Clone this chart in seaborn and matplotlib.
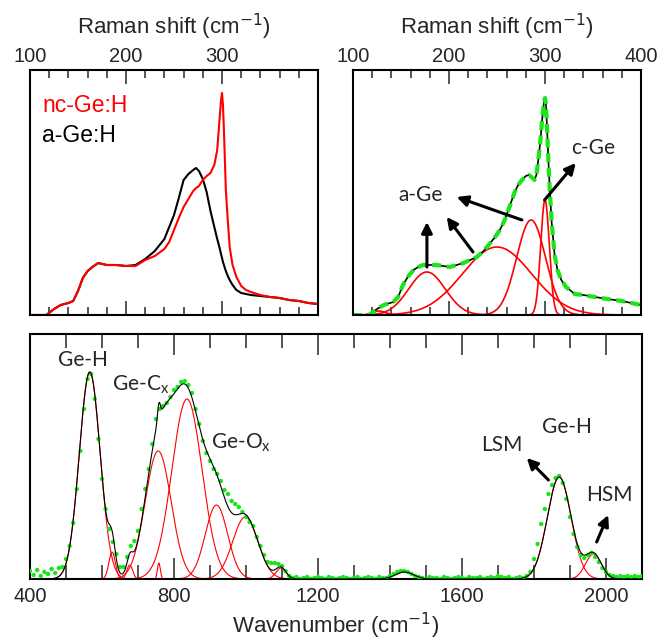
import numpy as np
import pandas as pd
import matplotlib
matplotlib.use('Agg')
import matplotlib.pyplot as plt
from matplotlib.ticker import MultipleLocator, FixedLocator
import seaborn as sns

# ---- top left: Raman spectra of nc-Ge:H and a-Ge:H (a.u.) ----
raman_x = [100, 110, 117, 125, 132, 140, 145, 150, 155, 160, 165, 171, 180, 190, 200,
           210, 220, 230, 240, 245, 250, 255, 260, 265, 270, 273, 276, 280, 284, 288,
           292, 295, 297, 299, 300, 301, 302, 304, 306, 308, 311, 315, 320, 325, 330,
           340, 350, 360, 370, 380, 390, 400]
nc_geh = [0, 0, 0, 6, 10, 12, 14, 24, 37, 44, 48, 52, 50, 50, 49,
          49, 55, 59, 66, 73, 85, 97, 108, 116, 124, 127, 129, 135, 139, 142,
          150, 165, 190, 215, 222, 210, 185, 125, 95, 68, 50, 38, 29, 25, 23,
          20, 18, 17, 15, 14, 12, 11]
a_geh = [0, 0, 0, 6, 10, 12, 14, 24, 37, 44, 48, 52, 50, 50, 49,
         50, 56, 64, 76, 88, 100, 117, 135, 141, 145, 147, 144, 136, 123, 104,
         88, 76, 69, 61, 57, 53, 50, 44, 39, 35, 30, 25, 22, 21, 20,
         19, 18, 17, 15, 14, 12, 11]

# ---- top right: nc-Ge:H spectrum and fitted peaks ----
fit_x = [100, 110, 117, 125, 132, 142, 147, 152, 157, 163, 168, 173, 180, 187, 194,
         201, 208, 215, 222, 229, 236, 243, 248, 253, 258, 263, 268, 272, 276, 280,
         283, 286, 289, 291, 293, 295, 297, 299, 300, 301, 302, 303.5, 305, 307, 310,
         313, 317, 322, 331, 340, 352, 365, 380, 390, 400]
fit_y = [0, 0, 0, 6, 10, 13, 18, 30, 38, 45, 48, 50, 50, 50, 49,
         48, 50, 52, 55, 58, 64, 72, 78, 85, 95, 108, 122, 130, 135, 139,
         140, 138, 135, 140, 155, 172, 195, 214, 217, 210, 190, 155, 125, 92, 60,
         45, 35, 28, 21, 20, 18, 16, 14, 12, 10]
ge_centers = [127, 177, 250, 285.5, 300]
ge_heights = [4, 43, 68, 95, 115]
ge_widths = [7, 19, 36, 15, 4.5]

# ---- bottom: IR absorption, 400-2100 cm-1 every 10 cm-1 ----
ir_x = np.arange(400, 2101, 10)
ir_y = [8, 4, 9, 3, 7, 5, 10, 6, 11, 12,            # 400-490
        20, 33, 56, 90, 128, 170, 200, 205, 180, 140,  # 500-590
        100, 70, 50, 37, 25, 12, 12, 22, 33, 38,       # 600-690
        48, 70, 90, 110, 135, 160, 170, 173, 176, 182,  # 700-790
        189, 192, 197, 198, 194, 186, 170, 155, 138, 126,  # 800-890
        118, 110, 105, 98, 89, 85, 78, 75, 72, 67,     # 900-990
        62, 57, 53, 42, 33, 24, 17, 16, 16, 15,        # 1000-1090
        13, 8, 3, 1, 2, 0, 1, 2, 0, 1,                 # 1100-1190
        2, 1, 0, 2, 1, 0, 1, 2, 1, 0,                  # 1200-1290
        1, 2, 0, 1, 2, 1, 0, 2, 1, 1,                  # 1300-1390
        3, 5, 7, 8, 8, 7, 5, 3, 2, 1,                  # 1400-1490
        0, 2, 1, 1, 0, 2, 1, 0, 1, 2,                  # 1500-1590
        1, 0, 2, 1, 1, 2, 0, 1, 2, 1,                  # 1600-1690
        3, 2, 1, 2, 0, 1, 2, 1, 3, 7,                  # 1700-1790
        20, 35, 55, 70, 85, 94, 101, 103, 96, 80,      # 1800-1890
        62, 45, 32, 24, 21, 24, 26, 22, 17, 11,        # 1900-1990
        7, 4, 3, 2, 3, 2, 3, 2, 3, 2, 3]               # 2000-2100
ir_centers = [566, 628, 677, 756, 758, 836, 918, 998, 1097, 1440, 1870, 1965]
ir_heights = [207, 27, 14, 128, 16, 180, 74, 62, 11, 7, 102, 25]
ir_widths = [29, 9, 8, 36, 4, 42, 31, 35, 14, 25, 33, 22]


def gauss(x, c, h, w):
    return h * np.exp(-(x - c) ** 2 / (2 * w ** 2))


sns.set_style('ticks')
plt.rcParams['font.family'] = ['Liberation Sans', 'DejaVu Sans']
green = '#19e619'
note = dict(family='Lato', fontsize=15)

fig = plt.figure(figsize=(6.61, 6.42), dpi=100)
ax1 = fig.add_axes([30 / 661, 327 / 642, 288 / 661, 245 / 642])
ax2 = fig.add_axes([353 / 661, 327 / 642, 288 / 661, 245 / 642])
ax3 = fig.add_axes([30 / 661, 63 / 642, 612 / 661, 245 / 642])

# top left
df_tl = pd.DataFrame({'shift': raman_x, 'nc': nc_geh, 'a': a_geh})
sns.lineplot(data=df_tl, x='shift', y='a', ax=ax1, color='black', lw=1.5)
sns.lineplot(data=df_tl, x='shift', y='nc', ax=ax1, color='red', lw=1.5)
ax1.text(113, 210, 'nc-Ge:H', color='red', fontsize=16.5, va='center')
ax1.text(113, 180, 'a-Ge:H', color='black', fontsize=16.5, va='center')
ax1.set_xlim(100, 400)
ax1.xaxis.set_major_locator(FixedLocator([100, 200, 300]))

# top right
df_tr = pd.DataFrame({'shift': fit_x, 'y': fit_y})
xs = np.linspace(100, 400, 1201)
for c, h, w in zip(ge_centers, ge_heights, ge_widths):
    sns.lineplot(x=xs, y=gauss(xs, c, h, w), ax=ax2, color='red', lw=1.2)
sns.lineplot(data=df_tr, x='shift', y='y', ax=ax2, color='black', lw=1.2)
sns.lineplot(data=df_tr, x='shift', y='y', ax=ax2, color=green, lw=3,
             linestyle=(0, (2.2, 1.3)))
ax2.set_xlim(100, 400)
ax2.xaxis.set_major_locator(FixedLocator([100, 200, 300, 400]))

arrow = dict(arrowstyle='-|>', color='black', lw=2.2, mutation_scale=16,
             shrinkA=0, shrinkB=0)
ax2.annotate('', xy=(177, 93), xytext=(177, 48), arrowprops=arrow)
ax2.annotate('', xy=(197.6, 98), xytext=(225, 63), arrowprops=arrow)
ax2.annotate('', xy=(208, 118), xytext=(276, 95), arrowprops=arrow)
ax2.annotate('', xy=(332, 152), xytext=(299.5, 115), arrowprops=arrow)
ax2.text(170, 120, 'a-Ge', ha='center', va='center', **note)
ax2.text(350, 167, 'c-Ge', ha='center', va='center', **note)

for ax in (ax1, ax2):
    ax.set_ylim(0, 245)
    ax.xaxis.set_minor_locator(MultipleLocator(20))
    ax.xaxis.set_label_position('top')
    ax.set_xlabel('Raman shift (cm$^{-1}$)', fontsize=16, labelpad=9)
    ax.tick_params(axis='x', which='both', direction='in', top=True, bottom=True,
                   labeltop=True, labelbottom=False, width=1.1, labelsize=14.5, pad=3)
    ax.tick_params(axis='x', which='major', length=10)
    ax.tick_params(axis='x', which='minor', length=6)

# bottom
xb = np.linspace(400, 2100, 3401)
fit_total = np.zeros_like(xb)
for c, h, w in zip(ir_centers, ir_heights, ir_widths):
    comp = gauss(xb, c, h, w)
    fit_total += comp
    sns.lineplot(x=xb, y=comp, ax=ax3, color='red', lw=0.8)
sns.scatterplot(x=ir_x, y=ir_y, ax=ax3, color=green, s=10, edgecolor='none', zorder=3)
sns.lineplot(x=xb, y=fit_total, ax=ax3, color='black', lw=0.8, zorder=4)
ax3.set_xlim(400, 2100)
ax3.set_ylim(0, 245)
ax3.xaxis.set_major_locator(MultipleLocator(400))
ax3.xaxis.set_minor_locator(MultipleLocator(100))
ax3.set_xlabel('Wavenumber (cm$^{-1}$)', fontsize=16, labelpad=3)
ax3.tick_params(axis='x', which='both', direction='in', top=True, bottom=True,
                width=1.1, labelsize=14.5, pad=6)
ax3.tick_params(axis='x', which='major', length=15)
ax3.tick_params(axis='x', which='minor', length=10)

ax3.text(548, 219, 'Ge-H', ha='center', va='center', **note)
ax3.text(628, 194, 'Ge-C$_\\mathregular{x}$', va='center', **note)
ax3.text(902, 136, 'Ge-O$_\\mathregular{x}$', va='center', **note)
ax3.text(1891, 152, 'Ge-H', ha='center', va='center', **note)
ax3.text(1710, 134, 'LSM', ha='center', va='center', **note)
ax3.text(2009, 84, 'HSM', ha='center', va='center', **note)
ax3.annotate('', xy=(1780, 121), xytext=(1840, 99), arrowprops=arrow)
ax3.annotate('', xy=(2006, 64), xytext=(1974, 37), arrowprops=arrow)

for ax in (ax1, ax2, ax3):
    ax.set_ylabel('')
    ax.set_yticks([])
    for s in ax.spines.values():
        s.set_visible(True)
        s.set_linewidth(1.5)
        s.set_color('black')

fig.savefig('out.png', dpi=100)
